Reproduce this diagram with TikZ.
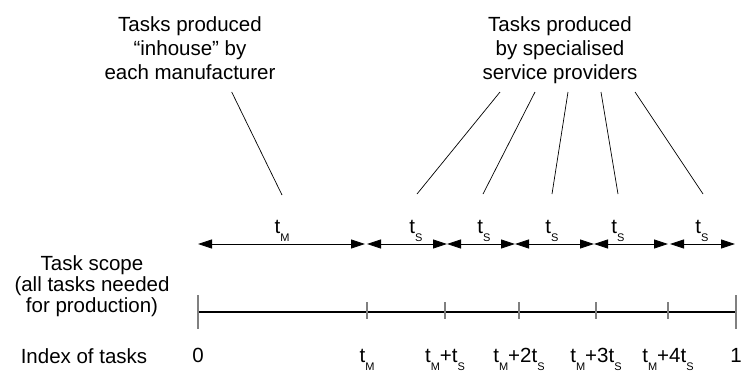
\documentclass[tikz,border=0pt]{standalone}
\usepackage{fontspec}
\setmainfont{Liberation Sans}
\usetikzlibrary{arrows.meta}
\newcommand{\sbs}[1]{\raisebox{-8pt}{\fontsize{11}{12}\selectfont #1}}
\begin{document}
\begin{tikzpicture}[x=1pt,y=-1pt,
  txt/.style={font=\fontsize{20.5}{24}\selectfont, inner sep=0pt, anchor=base},
  span/.style={{Triangle[length=14pt,width=9pt]}-{Triangle[length=14pt,width=9pt]}, line width=0.8pt},
  leader/.style={line width=0.7pt},
  tickmark/.style={draw=gray, line width=1.5pt},
  scope/.style={line width=1.1pt}
]
\useasboundingbox (0,0) rectangle (741,376);

% top texts
\node[txt] (l1) at (190,31) {Tasks produced};
\node[txt] (l2) at (190,55) {“inhouse” by};
\node[txt] (l3) at (190,79) {each manufacturer};
\node[txt] (r1) at (560,31) {Tasks produced};
\node[txt] (r2) at (560,55) {by specialised};
\node[txt] (r3) at (560,79) {service providers};

% left texts
\node[txt] (s1) at (92,270) {Task scope};
\node[txt] (s2) at (92,291) {(all tasks needed};
\node[txt] (s3) at (92,312) {for production)};
\node[txt] (ix) at (84,363) {Index of tasks};

% span labels
\node[txt] (tm) at (282,233) {t\sbs{M}};
\node[txt] (ts1) at (416,233) {t\sbs{S}};
\node[txt] (ts2) at (484,233) {t\sbs{S}};
\node[txt] (ts3) at (552,233) {t\sbs{S}};
\node[txt] (ts4) at (618,233) {t\sbs{S}};
\node[txt] (ts5) at (702,233) {t\sbs{S}};

% leader lines
\coordinate (lm0) at (231.7,92); \coordinate (lm1) at (282,195);
\coordinate (p1) at (500,92); \coordinate (q1) at (417,194);
\coordinate (p2) at (535,92); \coordinate (q2) at (483,194);
\coordinate (p3) at (568,92); \coordinate (q3) at (552,194);
\coordinate (p4) at (601,92); \coordinate (q4) at (618,194);
\coordinate (p5) at (635,92); \coordinate (q5) at (703,194);
\draw[leader] (lm0) -- (lm1);
\draw[leader] (p1) -- (q1);
\draw[leader] (p2) -- (q2);
\draw[leader] (p3) -- (q3);
\draw[leader] (p4) -- (q4);
\draw[leader] (p5) -- (q5);

% span arrows
\coordinate (a0) at (198,244); \coordinate (a1) at (365,244);
\coordinate (b0) at (367,244); \coordinate (b1) at (447,244);
\coordinate (b2) at (515,244); \coordinate (b3) at (594,244);
\coordinate (b4) at (668,244); \coordinate (c0) at (670,244);
\coordinate (c1) at (735,244);
\draw[span] (a0) -- (a1);
\draw[span] (b0) -- (b1);
\draw[span] (b1) -- (b2);
\draw[span] (b2) -- (b3);
\draw[span] (b3) -- (b4);
\draw[span] (c0) -- (c1);

% scope line and ticks
\coordinate (k0) at (198,312); \coordinate (k6) at (736,312);
\draw[scope] (k0) -- (k6);
\draw[tickmark] (198,295) -- (198,329);
\draw[tickmark] (736,295) -- (736,329);
\foreach \x in {367,445,519,596,668}
  \draw[tickmark] (\x,302) -- (\x,319);

% index labels
\node[txt] (i0) at (198,362) {0};
\node[txt] (i1) at (367,362) {t\sbs{M}};
\node[txt] (i2) at (445,362) {t\sbs{M}+t\sbs{S}};
\node[txt] (i3) at (519,362) {t\sbs{M}+2t\sbs{S}};
\node[txt] (i4) at (596,362) {t\sbs{M}+3t\sbs{S}};
\node[txt] (i5) at (668,362) {t\sbs{M}+4t\sbs{S}};
\node[txt] (i6) at (736,362) {1};
\end{tikzpicture}
\end{document}
